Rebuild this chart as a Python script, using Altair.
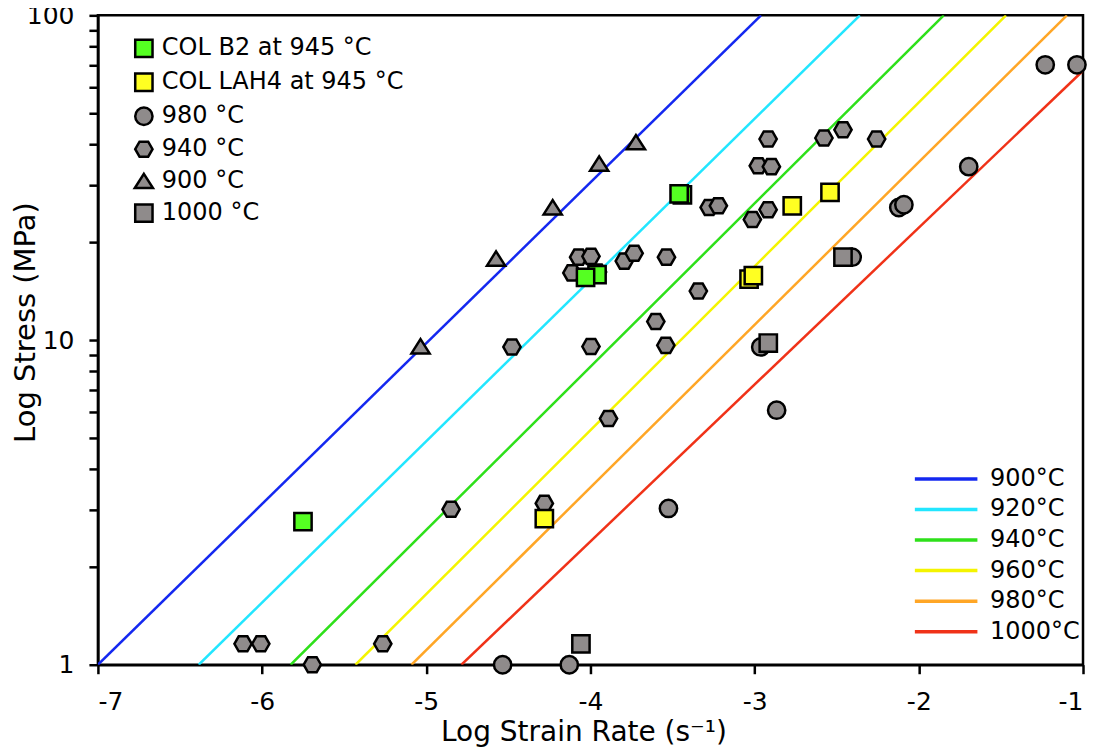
import altair as alt
import pandas as pd

# ---- fitted lines (endpoints) ----
line_temps = ["900°C", "920°C", "940°C", "960°C", "980°C", "1000°C"]
line_x0 = [-7.0, -6.386, -5.826, -5.431, -5.09, -4.786]
line_y0 = [1, 1, 1, 1, 1, 1]
line_x1 = [-2.961, -2.359, -1.848, -1.469, -1.098, -1.0]
line_y1 = [100, 100, 100, 100, 100, 67.5]
line_colors = ["#1428f0", "#22e6ff", "#2ee01a", "#f4f400", "#ffa626", "#f03218"]

# ---- data points ----
series_order = ["COL B2 at 945 °C", "COL LAH4 at 945 °C", "980 °C", "940 °C", "900 °C", "1000 °C"]

hex_x = [-6.116, -6.008, -5.265, -5.694, -4.849, -4.478, -3.997, -3.602, -3.541, -3.890,
         -4.281, -3.343, -3.537, -3.794, -3.734, -4.072, -3.997, -4.113, -3.957, -3.277,
         -3.221, -3.014, -2.918, -2.978, -2.898, -2.918, -2.578, -2.462, -2.257]
hex_y = [1.16, 1.16, 1.16, 1.0, 3.01, 9.52, 9.55, 11.4, 9.63, 5.73,
         3.14, 14.15, 18.0, 17.5, 18.5, 18.0, 18.1, 16.1, 16.2, 25.6,
         25.9, 23.5, 25.2, 34.4, 34.2, 41.6, 41.9, 44.4, 41.6]

circ_x = [-1.230, -1.037, -1.696, -2.122, -2.091, -2.406, -2.963, -2.866, -3.525, -4.535, -4.129]
circ_y = [70.4, 70.4, 34.2, 25.6, 26.1, 18.0, 9.52, 6.08, 3.03, 1.0, 1.0]

tri_x = [-5.035, -4.575, -4.230, -3.947, -3.723]
tri_y = [9.55, 17.8, 25.6, 34.9, 40.6]

sq1000_x = [-4.058, -2.917, -2.462]
sq1000_y = [1.16, 9.79, 18.0]

b2_x = [-3.96, -4.03, -3.44, -3.46, -5.751]
b2_y = [15.9, 15.6, 28.0, 28.2, 2.76]

lah4_x = [-4.281, -3.034, -3.008, -2.771, -2.541]
lah4_y = [2.82, 15.4, 15.8, 25.9, 28.5]

HEX = "M-1,0 L-0.5,-0.87 L0.5,-0.87 L1,0 L0.5,0.87 L-0.5,0.87 Z"
TRI = "M0,-0.85 L1.05,0.8 L-1.05,0.8 Z"

rows = []
for name, xs, ys in [("940 °C", hex_x, hex_y), ("980 °C", circ_x, circ_y),
                     ("900 °C", tri_x, tri_y), ("1000 °C", sq1000_x, sq1000_y),
                     ("COL B2 at 945 °C", b2_x, b2_y), ("COL LAH4 at 945 °C", lah4_x, lah4_y)]:
    for a, b in zip(xs, ys):
        rows.append({"series": name, "rate": a, "stress": b})
pts = pd.DataFrame(rows)

lines = pd.DataFrame({"temp": line_temps, "x0": line_x0, "y0": line_y0,
                      "x1": line_x1, "y1": line_y1})

FONT = "DejaVu Sans"

xscale = alt.Scale(domain=[-7, -1], nice=False, zero=False)
yscale = alt.Scale(type="log", domain=[1, 100], nice=False)

xaxis = alt.Axis(values=[-7, -6, -5, -4, -3, -2, -1], title="Log Strain Rate (s⁻¹)",
                 labelExpr="datum.value + ''", titleX=486)
yaxis = alt.Axis(values=[1, 2, 3, 4, 5, 6, 7, 8, 9, 10, 20, 30, 40, 50, 60, 70, 80, 90, 100],
                 title="Log Stress (MPa)", titleX=-72, titleY=307, titleBaseline="middle",
                 titleFontSize=29,
                 labelExpr="(datum.value == 1 || datum.value == 10 || datum.value == 100) ? datum.value + '' : ''")

line_legend = alt.Legend(title=None, orient="none", legendX=837, legendY=452,
                         symbolType="M-3.5,0 L3.5,0", symbolSize=320,
                         symbolStrokeWidth=3.5, labelOffset=32, labelLimit=400,
                         labelFont=FONT, labelFontSize=24, labelColor="black",
                         rowPadding=6.6, padding=0)

line_layer = alt.Chart(lines).mark_rule(strokeWidth=2.5, clip=True).encode(
    x=alt.X("x0:Q", scale=xscale, axis=xaxis),
    x2="x1:Q",
    y=alt.Y("y0:Q", scale=yscale, axis=yaxis),
    y2="y1:Q",
    color=alt.Color("temp:N",
                    scale=alt.Scale(domain=line_temps, range=line_colors),
                    legend=line_legend),
)

sym_legend = alt.Legend(title=None, orient="none", legendX=34, legendY=21,
                        symbolStrokeWidth=2.5,
                        symbolSize=300, labelFont=FONT, labelFontSize=24,
                        labelColor="black", rowPadding=6, padding=0,
                        labelOffset=6, labelLimit=400)

point_layer = alt.Chart(pts).mark_point(filled=True, size=300, opacity=1, strokeWidth=2.5).encode(
    x=alt.X("rate:Q", scale=xscale),
    y=alt.Y("stress:Q", scale=yscale),
    fill=alt.Fill("series:N",
                  scale=alt.Scale(domain=series_order,
                                  range=["#55ff22", "#ffff22", "#8f8b8b", "#8f8b8b", "#8f8b8b", "#8f8b8b"]),
                  legend=sym_legend),
    shape=alt.Shape("series:N",
                    scale=alt.Scale(domain=series_order,
                                    range=["square", "square", "circle", HEX, TRI, "square"]),
                    legend=sym_legend),
    stroke=alt.Stroke("series:N",
                      scale=alt.Scale(domain=series_order, range=["black"] * 6),
                      legend=sym_legend),
)

chart = alt.layer(line_layer, point_layer).properties(
    width=986, height=650,
    autosize=alt.AutoSizeParams(type="none"),
    padding={"left": 90, "top": 7, "right": 10, "bottom": 82},
).configure_view(
    stroke="black", strokeWidth=2.5
).configure_axis(
    grid=False, domainColor="black", domainWidth=2.5, tickColor="black", tickWidth=2.5,
    tickSize=9, labelFont=FONT, labelFontSize=25, labelColor="black",
    titleFont=FONT, titleFontSize=28, titleFontWeight="normal", titleColor="black",
).configure_axisX(
    labelPadding=16, titlePadding=4,
).configure_axisY(
    labelPadding=15,
)

chart.save("out.html", embed_options={"renderer": "svg", "actions": False})
